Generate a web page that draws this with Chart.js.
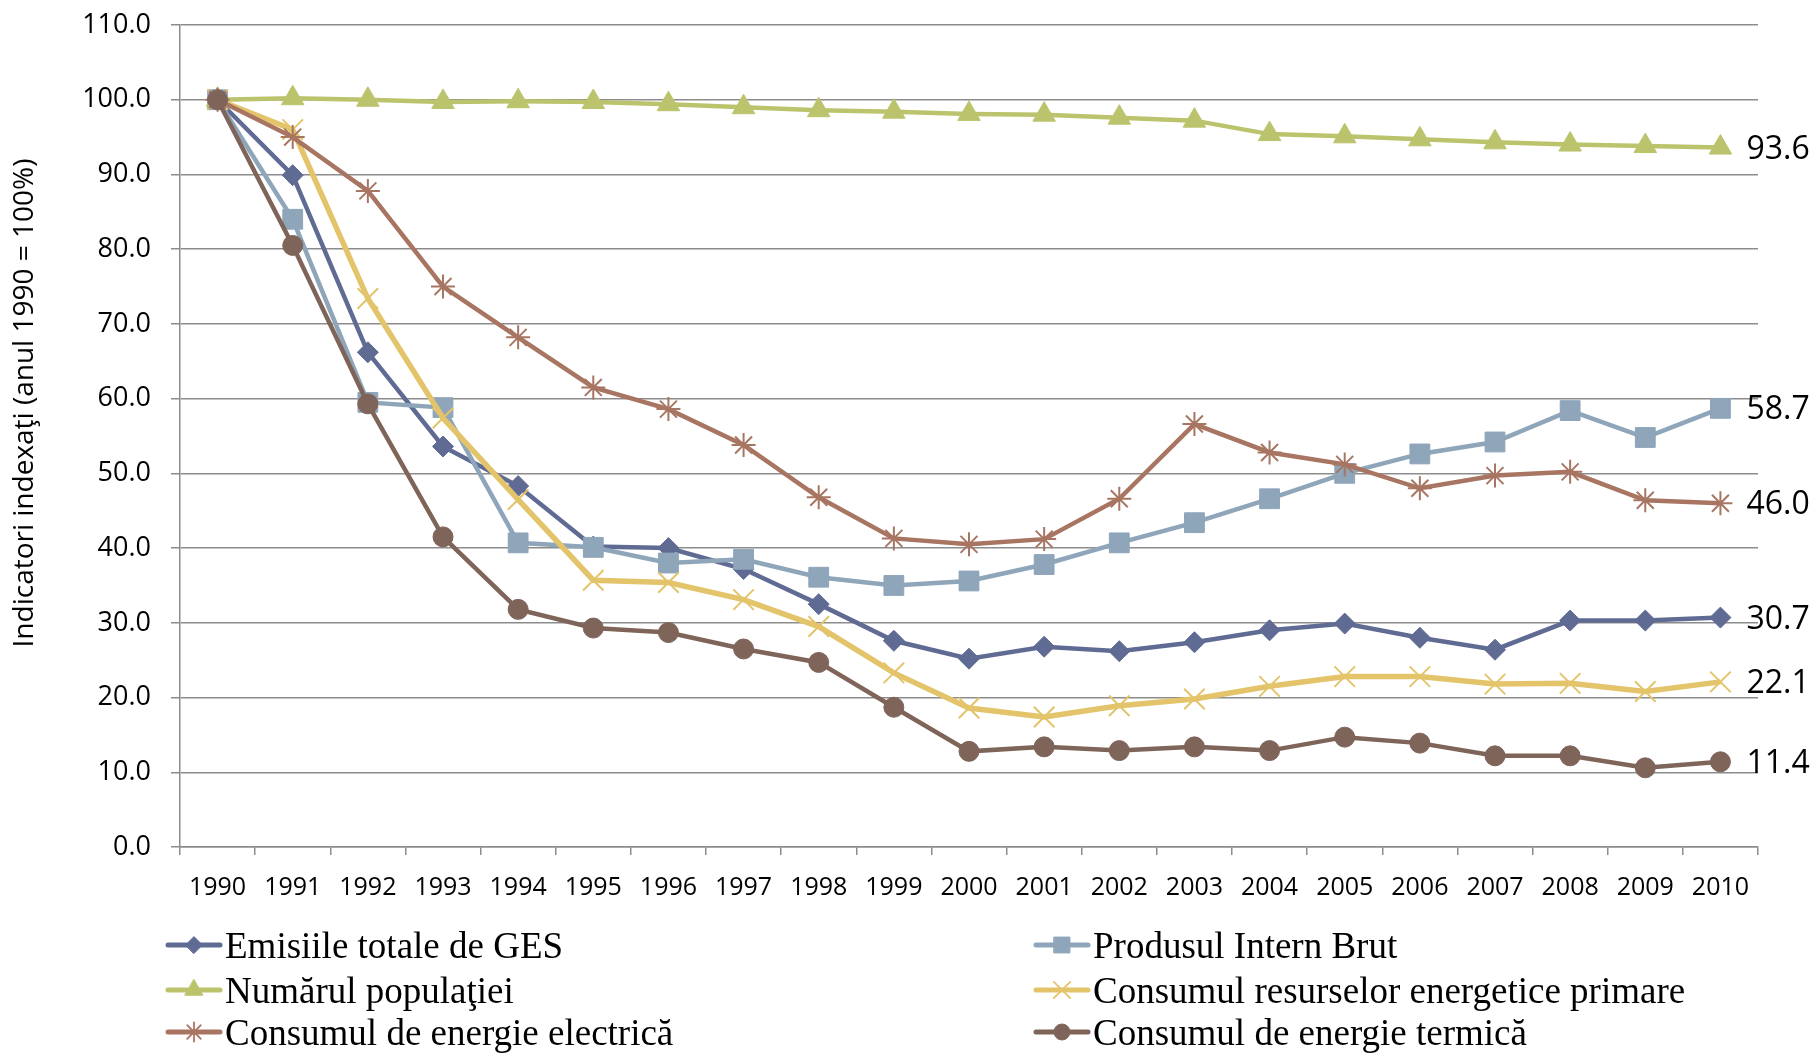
<!DOCTYPE html>
<html>
<head>
<meta charset="utf-8">
<script src="https://cdn.jsdelivr.net/npm/chart.js@4.4.1/dist/chart.umd.min.js"></script>
<style>
  html, body { margin: 0; padding: 0; background: #fff; }
  #wrap { position: relative; width: 1816px; height: 1053px; }
  #c { position: absolute; left: 0; top: 0; }
  .leg { position: absolute; display: flex; align-items: center; height: 44px;
    font-family: "Liberation Serif", "Times New Roman", serif; font-size: 37px;
    color: #000; white-space: nowrap; line-height: 1; }
  .leg canvas { margin-right: 2px; }
</style>
</head>
<body>
<div id="wrap">
  <canvas id="c" width="1816" height="1053"></canvas>
  <div id="legend"></div>
</div>
<script>
// indexed indicators, 1990 = 100
const years = ["1990","1991","1992","1993","1994","1995","1996","1997","1998","1999","2000",
  "2001","2002","2003","2004","2005","2006","2007","2008","2009","2010"];

const emisiiGES = [100, 89.9, 66.2, 53.6, 48.3, 40.2, 40.0, 37.2, 32.5, 27.6, 25.2,
  26.8, 26.2, 27.4, 29.0, 29.9, 28.0, 26.4, 30.3, 30.3, 30.7];
const pib = [100, 84.0, 59.5, 58.8, 40.7, 40.1, 38.0, 38.5, 36.1, 35.0, 35.6,
  37.8, 40.7, 43.4, 46.6, 50.0, 52.6, 54.2, 58.4, 54.8, 58.7];
const populatie = [100, 100.2, 100.0, 99.7, 99.8, 99.7, 99.4, 99.0, 98.6, 98.4, 98.1,
  98.0, 97.6, 97.2, 95.4, 95.1, 94.7, 94.3, 94.0, 93.8, 93.6];
const resursePrimare = [100, 96.0, 73.4, 57.4, 46.5, 35.7, 35.4, 33.1, 29.5, 23.3, 18.6,
  17.4, 18.9, 19.8, 21.5, 22.8, 22.8, 21.8, 21.9, 20.8, 22.1];
const energieElectrica = [100, 95.0, 87.8, 75.0, 68.2, 61.5, 58.6, 53.8, 46.8, 41.3, 40.5,
  41.2, 46.6, 56.6, 52.8, 51.2, 48.0, 49.7, 50.2, 46.4, 46.0];
const energieTermica = [100, 80.5, 59.3, 41.5, 31.8, 29.3, 28.7, 26.5, 24.7, 18.7, 12.8,
  13.4, 12.9, 13.4, 12.9, 14.7, 13.9, 12.2, 12.2, 10.6, 11.4];

const yTicks = { min: 0, max: 110, step: 10 };

const series = [
  { label: "Emisiile totale de GES", data: emisiiGES, color: "#606b94", style: "rectRot", r: 10.5, lw: 4.5 },
  { label: "Produsul Intern Brut", data: pib, color: "#8ea5ba", style: "rect", r: 14, lw: 4.5 },
  { label: "Numărul populaţiei", data: populatie, color: "#bbc46c", style: "triangle", r: 13, lw: 4.5 },
  { label: "Consumul resurselor energetice primare", data: resursePrimare, color: "#e3c46a", style: "crossRot", r: 14.5, lw: 5.5, thin: true },
  { label: "Consumul de energie electrică", data: energieElectrica, color: "#a87562", style: "star", r: 12, lw: 4.5, thin: true },
  { label: "Consumul de energie termică", data: energieTermica, color: "#7f645a", style: "circle", r: 10, lw: 4.5 },
];

const GRID = "#8c8c8c";
const SANS = '"Open Sans", "Noto Sans", sans-serif';

// values at the end of every line
const endLabels = {
  id: "endLabels",
  afterDatasetsDraw(chart) {
    const ctx = chart.ctx;
    ctx.save();
    ctx.font = `32px ${SANS}`;
    ctx.fillStyle = "#000";
    ctx.textBaseline = "middle";
    ctx.textAlign = "left";
    chart.data.datasets.forEach((ds, i) => {
      const meta = chart.getDatasetMeta(i);
      const pt = meta.data[meta.data.length - 1];
      ctx.fillText(ds.data[ds.data.length - 1].toFixed(1), pt.x + 26, pt.y + 2);
    });
    ctx.restore();
  },
};

// rotated y title, a bit above the plot centre like the original
const yTitle = {
  id: "yTitle",
  afterDraw(chart) {
    const ctx = chart.ctx;
    ctx.save();
    ctx.translate(25, 403);
    ctx.rotate(-Math.PI / 2);
    ctx.font = `28px ${SANS}`;
    ctx.fillStyle = "#000";
    ctx.textAlign = "center";
    ctx.textBaseline = "middle";
    ctx.fillText("Indicatori indexaţi (anul 1990 = 100%)", 0, 0);
    ctx.restore();
  },
};

new Chart(document.getElementById("c"), {
  type: "line",
  data: {
    labels: years,
    datasets: series.map((s, i) => ({
      label: s.label,
      data: s.data,
      borderColor: s.color,
      backgroundColor: s.color,
      borderWidth: s.lw,
      tension: 0,
      fill: false,
      order: series.length - i,
      pointStyle: s.style,
      pointRadius: s.r,
      pointHoverRadius: s.r,
      pointBackgroundColor: s.color,
      pointBorderColor: s.color,
      pointBorderWidth: s.thin ? 2 : 1,
    })),
  },
  options: {
    responsive: false,
    animation: false,
    layout: { padding: { left: 0, top: 25, right: 58, bottom: 153 } },
    plugins: { legend: { display: false }, tooltip: { enabled: false } },
    scales: {
      x: {
        offset: true,
        grid: { display: true, drawOnChartArea: false, drawTicks: true, tickLength: 8,
          color: GRID, lineWidth: 1.5, offset: true },
        border: { display: true, color: GRID, width: 1.5 },
        ticks: { color: "#000", font: { family: SANS, size: 25 }, padding: 18,
          maxRotation: 0, autoSkip: false },
        afterFit: (scale) => { scale.height = 53; },
      },
      y: {
        min: yTicks.min,
        max: yTicks.max,
        grid: { color: GRID, lineWidth: 1.5, drawTicks: true, tickLength: 9 },
        border: { display: true, color: GRID, width: 1.5 },
        ticks: { stepSize: yTicks.step, color: "#000", font: { family: SANS, size: 27 },
          padding: 20, callback: (v) => Number(v).toFixed(1) },
        afterFit: (scale) => {
          scale.width = 180;
          // label padding would otherwise push the plot top down
          scale.paddingTop = 0;
          scale.paddingBottom = 0;
        },
      },
    },
  },
  plugins: [endLabels, yTitle],
});

// legend: two columns, line + marker like the spreadsheet original
const legCols = [165, 1033];
const legRows = [945, 990, 1032];
const legBox = document.getElementById("legend");
series.forEach((s, i) => {
  const item = document.createElement("div");
  item.className = "leg";
  item.style.left = legCols[i % 2] + "px";
  item.style.top = (legRows[Math.floor(i / 2)] - 22) + "px";
  const cv = document.createElement("canvas");
  cv.width = 58; cv.height = 30;
  const ctx = cv.getContext("2d");
  ctx.strokeStyle = s.color;
  ctx.fillStyle = s.color;
  ctx.lineWidth = 5;
  ctx.lineCap = "round";
  ctx.beginPath(); ctx.moveTo(3, 15); ctx.lineTo(55, 15); ctx.stroke();
  ctx.lineWidth = s.thin ? 1.8 : 1;
  Chart.helpers.drawPoint(ctx, { pointStyle: s.style, radius: s.r * 0.8, rotation: 0,
    borderWidth: ctx.lineWidth }, 29, 15);
  item.appendChild(cv);
  const t = document.createElement("span");
  t.textContent = s.label;
  item.appendChild(t);
  legBox.appendChild(item);
});
</script>
</body>
</html>
